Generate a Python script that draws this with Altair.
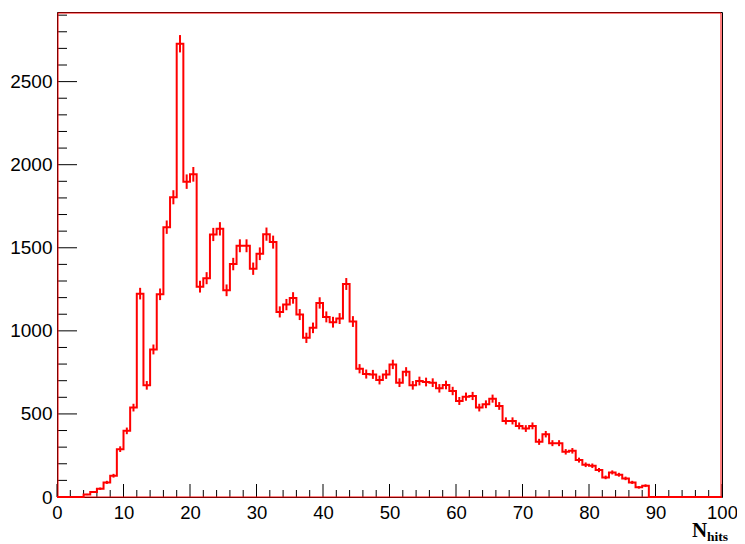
import altair as alt
import pandas as pd
import numpy as np

# Histogram content: N_hits, 100 bins of width 1 from 0 to 100
bin_low = list(range(100))
counts = [
    0, 0, 0, 0, 15, 30, 50, 88, 128, 288,
    398, 538, 1224, 672, 888, 1220, 1624, 1804, 2728, 1898,
    1942, 1266, 1317, 1580, 1614, 1244, 1402, 1512, 1512, 1374,
    1464, 1582, 1534, 1114, 1158, 1198, 1098, 958, 1018, 1168,
    1084, 1052, 1074, 1282, 1056, 772, 740, 738, 704, 738,
    798, 688, 754, 672, 698, 692, 688, 654, 674, 638,
    578, 604, 608, 538, 558, 592, 548, 458, 458, 428,
    412, 428, 332, 378, 324, 324, 272, 278, 222, 194,
    188, 162, 118, 148, 134, 112, 88, 58, 68, 0,
    0, 0, 0, 0, 0, 0, 0, 0, 0, 0,
]
x_major = list(range(0, 101, 10))
x_minor = [v for v in range(0, 101, 2) if v % 10 != 0]
y_major = list(range(0, 2501, 500))
y_minor = [v for v in range(0, 2901, 100) if v % 500 != 0]

W, H = 665, 485
YMAX = 2919
PAD_L = 49

step_df = pd.DataFrame({"x": bin_low + [100], "y": counts + [0]})
err_df = pd.DataFrame({
    "xc": [b + 0.5 for b, c in zip(bin_low, counts) if c > 0],
    "lo": [c - np.sqrt(c) for c in counts if c > 0],
    "hi": [c + np.sqrt(c) for c in counts if c > 0],
})

xscale = alt.Scale(domain=[0, 100], nice=False, zero=False)
yscale = alt.Scale(domain=[0, YMAX], nice=False)

xaxis = alt.Axis(values=x_major, ticks=False, tickSize=0, domain=False, grid=False,
                 labelFont="Liberation Sans", labelFontSize=18.5, labelColor="black",
                 labelPadding=6, labelFlush=False, labelOverlap=False, title=None, format="d")
yaxis = alt.Axis(values=y_major, ticks=False, tickSize=0, domain=False, grid=False,
                 labelFont="Liberation Sans", labelFontSize=19, labelColor="black",
                 labelPadding=5, labelFlush=False, labelOverlap=False, title=None, format="d")

hist = alt.Chart(step_df).mark_line(
    interpolate="step-after", color="#ff0000", strokeWidth=2
).encode(
    x=alt.X("x:Q", scale=xscale, axis=xaxis),
    y=alt.Y("y:Q", scale=yscale, axis=yaxis),
)

errs = alt.Chart(err_df).mark_rule(color="#ff0000", strokeWidth=2).encode(
    x=alt.X("xc:Q", scale=xscale),
    y=alt.Y("lo:Q", scale=yscale),
    y2="hi:Q",
)

ymaj = alt.Chart(pd.DataFrame({"v": y_major})).mark_rule(color="black", strokeWidth=1).encode(
    y=alt.Y("v:Q", scale=yscale), x=alt.value(0), x2=alt.value(20))
ymin = alt.Chart(pd.DataFrame({"v": y_minor})).mark_rule(color="black", strokeWidth=1).encode(
    y=alt.Y("v:Q", scale=yscale), x=alt.value(0), x2=alt.value(10))
xmaj = alt.Chart(pd.DataFrame({"v": x_major})).mark_rule(color="black", strokeWidth=1).encode(
    x=alt.X("v:Q", scale=xscale), y=alt.value(H), y2=alt.value(H - 13))
xmin = alt.Chart(pd.DataFrame({"v": x_minor})).mark_rule(color="black", strokeWidth=1).encode(
    x=alt.X("v:Q", scale=xscale), y=alt.value(H), y2=alt.value(H - 7))

frame = alt.Chart(pd.DataFrame({"a": [0]})).mark_rect(
    fillOpacity=0, stroke="#ff0000", strokeWidth=1
).encode(x=alt.value(1), x2=alt.value(W - 1), y=alt.value(1), y2=alt.value(H))

title_n = alt.Chart(pd.DataFrame({"t": ["N"]})).mark_text(
    font="Liberation Serif", fontWeight="bold", fontSize=21, align="left",
    baseline="alphabetic", color="black"
).encode(text="t:N", x=alt.value(692 - 8 - PAD_L), y=alt.value(525))
title_sub = alt.Chart(pd.DataFrame({"t": ["hits"]})).mark_text(
    font="Liberation Serif", fontWeight="bold", fontSize=13.5, align="left",
    baseline="alphabetic", color="black"
).encode(text="t:N", x=alt.value(707 - 8 - PAD_L), y=alt.value(529))

chart = alt.layer(
    ymin, ymaj, xmin, xmaj, frame, hist, errs, title_n, title_sub
).properties(
    width=W, height=H,
    padding={"left": PAD_L, "top": 4, "right": 729 - PAD_L - W, "bottom": 47},
    autosize=alt.AutoSizeParams(type="none"),
    background="white",
).configure_view(stroke="black", strokeWidth=1)

chart.save("out.html", embed_options={"renderer": "svg", "actions": False})
